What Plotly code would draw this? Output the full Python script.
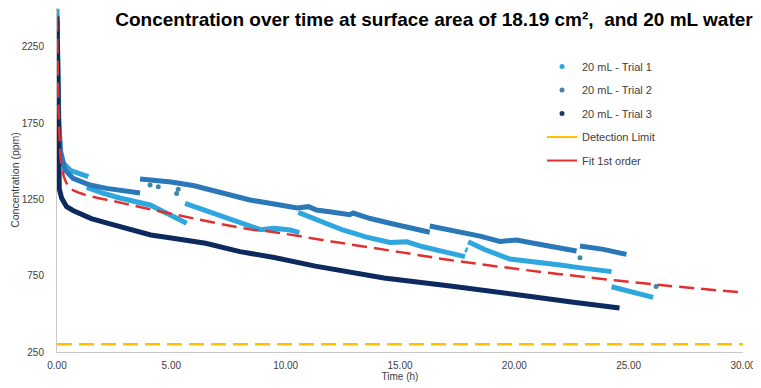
import plotly.graph_objects as go

# ---------------- data ----------------
# Trial 1 (several logged segments, None separates segments)
t1_time = [0.0, 0.03, 0.07, 0.15, 0.28, 0.6, 1.0, 1.37, None,
           1.3, 2.0, 2.75, 3.4, 4.07, 4.8, 5.67, None,
           5.6, 6.3, 6.98, 7.7, 8.44, 8.9, 9.5, 10.2, 10.6, None,
           10.55, 11.5, 12.5, 13.5, 14.56, 15.3, 16.0, 17.0, 17.84, None,
           17.85, 17.95, None,
           17.98, 18.7, 19.8, 20.24, 21.0, 22.0, 23.0, 24.25, None,
           24.25, 25.0, 25.6, 26.07]
t1_conc = [2500, 2150, 1780, 1570, 1487, 1440, 1415, 1400, None,
           1330, 1292, 1260, 1238, 1214, 1160, 1094, None,
           1225, 1190, 1148, 1112, 1080, 1052, 1062, 1050, 1033, None,
           1165, 1105, 1050, 1005, 968, 973, 940, 905, 875, None,
           922, 916, None,
           973, 922, 860, 853, 840, 820, 800, 777, None,
           678, 652, 630, 608]

# Trial 2
t2_time = [0.0, 0.04, 0.08, 0.15, 0.35, 0.7, 1.44, 2.17, 3.0, 3.63, None,
           3.63, 4.07, 5.0, 6.0, 7.0, 8.44, 9.3, 10.5, 11.0, 11.35, 12.0, 12.8, 12.95, 13.7, 14.56, 16.3, None,
           16.3, 17.18, 18.5, 19.37, 20.1, 21.26, 22.0, 22.72, None,
           22.87, 23.9, 24.9]
t2_conc = [2420, 2050, 1750, 1560, 1443, 1389, 1345, 1323, 1305, 1292, None,
           1385, 1378, 1365, 1340, 1300, 1247, 1225, 1195, 1203, 1181, 1168, 1150, 1161, 1125, 1094, 1035, None,
           1076, 1050, 1010, 975, 984, 952, 935, 912, None,
           945, 923, 890]
t2_stray_time = [4.07, 4.43, 5.3, 5.23, 22.87, 26.2]
t2_stray_conc = [1345, 1334, 1317, 1290, 868, 680]

# Trial 3
t3_time = [0.0, 0.02, 0.04, 0.06, 0.1, 0.2, 0.42, 0.7, 1.0, 1.5, 2.2, 3.0, 3.6, 4.1,
           5.0, 6.5, 8.0, 9.5, 11.3, 14.3, 17.2, 19.4, 20.8, 22.5, 24.6]
t3_conc = [2450, 2100, 1700, 1400, 1320, 1260, 1203, 1178, 1155, 1125, 1095, 1062, 1040, 1017,
           997, 963, 908, 870, 813, 735, 683, 635, 612, 578, 538]

# Fit 1st order
fit_time = [0.0, 0.03, 0.07, 0.12, 0.2, 0.35, 0.57, 1.15, 2.6, 4.07, 6.0, 8.44, 9.3,
            12.0, 15.0, 17.18, 19.37, 22.0, 26.4, 30.0]
fit_conc = [2450, 2150, 1850, 1620, 1470, 1380, 1325, 1285, 1235, 1186, 1125, 1054, 1040,
            975, 905, 853, 809, 760, 689, 640]

# Detection limit
det_time = [0.0, 30.0]
det_conc = [300, 300]

x_ticks = [0, 5, 10, 15, 20, 25, 30]
y_ticks = [250, 750, 1250, 1750, 2250]

# ---------------- styling ----------------
C1 = "#2EA6DE"
C2 = "#2A78B8"
C3 = "#0C2A5E"
CDET = "#FFC000"
CFIT = "#E0302F"
TXT = "#404040"
NARROW = "Liberation Sans Narrow, Arial Narrow, Liberation Sans, Arial, sans-serif"

# page has an 8px body margin, so the figure is sized/positioned to compensate
W, H = 753, 380

fig = go.Figure()

# data traces (no legend)
fig.add_trace(go.Scatter(x=t1_time, y=t1_conc, mode="lines", line=dict(color=C1, width=5),
                         showlegend=False, connectgaps=False, cliponaxis=False))
fig.add_trace(go.Scatter(x=t2_time, y=t2_conc, mode="lines", line=dict(color=C2, width=5),
                         showlegend=False, connectgaps=False, cliponaxis=False))
fig.add_trace(go.Scatter(x=t2_stray_time, y=t2_stray_conc, mode="markers",
                         marker=dict(color="#3C8AA8", size=5), showlegend=False))
fig.add_trace(go.Scatter(x=t3_time, y=t3_conc, mode="lines", line=dict(color=C3, width=5),
                         showlegend=False, cliponaxis=False))
fig.add_trace(go.Scatter(x=det_time, y=det_conc, mode="lines",
                         line=dict(color=CDET, width=2.5, dash="15px,7px"), showlegend=False))
fig.add_trace(go.Scatter(x=fit_time, y=fit_conc, mode="lines", line_shape="spline",
                         line=dict(color=CFIT, width=2.5, dash="15px,7px"), showlegend=False,
                         cliponaxis=False))

# legend-only entries
legend_items = [
    ("20 mL - Trial 1", dict(mode="markers", marker=dict(color=C1, size=5))),
    ("20 mL - Trial 2", dict(mode="markers", marker=dict(color="#3F86A6", size=5))),
    ("20 mL - Trial 3", dict(mode="markers", marker=dict(color="#1F3A63", size=5))),
    ("Detection Limit", dict(mode="lines", line=dict(color=CDET, width=2))),
    ("Fit 1st order", dict(mode="lines", line=dict(color=CFIT, width=2))),
]
for i, (name, kw) in enumerate(legend_items):
    fig.add_trace(go.Scatter(x=[None], y=[None], name=name, legendgroup=f"g{i}", **kw))

fig.update_layout(
    width=W, height=H,
    margin=dict(l=49, r=18, t=0, b=36, autoexpand=False),
    paper_bgcolor="white", plot_bgcolor="white",
    title=dict(text="Concentration over time at surface area of 18.19 cm²,  and 20 mL water",
               font=dict(family="Liberation Sans, Arial, sans-serif", size=19, color="black", weight="bold"),
               xref="container", yref="container", x=426 / W, xanchor="center", y=1 - 11 / H, yanchor="middle"),
    legend=dict(x=0.707, xanchor="left", y=0.872, yanchor="top", bgcolor="rgba(0,0,0,0)",
                font=dict(family="Liberation Sans, Arial, sans-serif", size=11, color=TXT),
                tracegroupgap=4.5),
    xaxis=dict(range=[0, 30], tickvals=x_ticks, ticktext=[f"{v:.2f}" for v in x_ticks],
               automargin=False,
               showgrid=False, zeroline=False, showline=True, linecolor="#C8C8C8", linewidth=1,
               ticks="outside", ticklen=4, tickcolor="rgba(0,0,0,0)",
               tickfont=dict(family=NARROW, size=10, color=TXT),
               title=dict(text="Time (h)", font=dict(family=NARROW, size=10, color=TXT), standoff=2)),
    yaxis=dict(range=[250, 2505.6], tickvals=y_ticks, ticktext=[str(v) for v in y_ticks],
               automargin=False,
               showgrid=False, zeroline=False, showline=True, linecolor="#C8C8C8", linewidth=1,
               ticks="outside", ticklen=10, tickcolor="rgba(0,0,0,0)",
               tickfont=dict(family=NARROW, size=10, color=TXT),
               title=dict(text="Concentration (ppm)", font=dict(family=NARROW, size=10.5, color=TXT), standoff=0)),
)

fig.write_html("out.html")
